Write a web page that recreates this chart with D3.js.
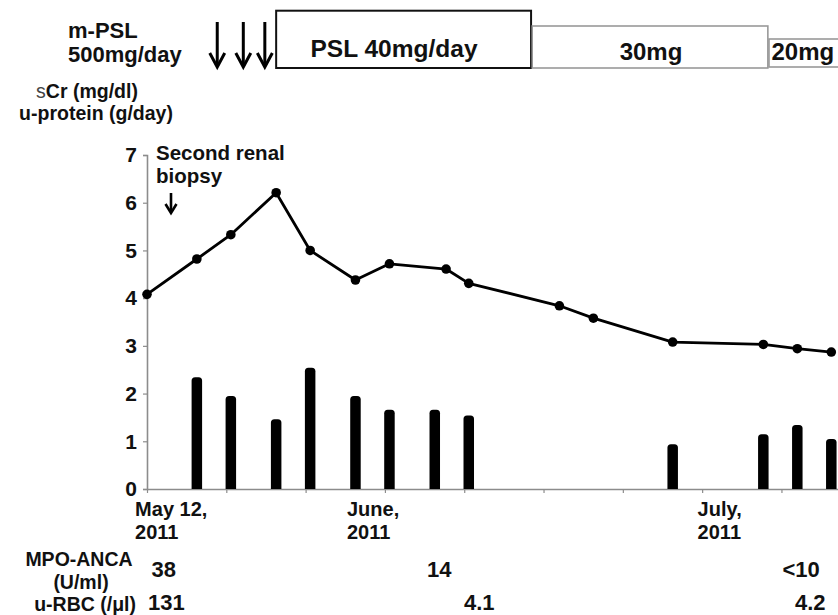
<!DOCTYPE html>
<html><head><meta charset="utf-8">
<script src="https://cdn.jsdelivr.net/npm/d3@7"></script>
<style>
body{margin:0;background:#fff}
svg{display:block;font-family:"Liberation Sans",Arial,Helvetica,sans-serif;font-weight:bold}
</style>
</head><body>
<svg id="chart" width="838" height="615"></svg>
<script>
// ---- data (x values: days after May 12, 2011) ----
const lineDays = [0, 4.4, 7.4, 11.4, 14.4, 18.4, 21.4, 26.4, 28.4, 36.4, 39.4, 46.4, 54.4, 57.4, 60.4];
const sCr      = [4.08, 4.82, 5.33, 6.21, 5.00, 4.38, 4.72, 4.61, 4.31, 3.84, 3.58, 3.08, 3.03, 2.94, 2.87];
const barDays  = [4.4, 7.4, 11.4, 14.4, 18.4, 21.4, 25.4, 28.4, 46.4, 54.4, 57.4, 60.4];
const uProtein = [2.34, 1.95, 1.46, 2.54, 1.95, 1.66, 1.66, 1.54, 0.94, 1.15, 1.34, 1.05];
const yTicks = [0, 1, 2, 3, 4, 5, 6, 7];
const xTickDays = [0, 7, 14, 21, 28, 35, 42, 49, 56];
const xLabelLines = [["May 12,", "2011"], ["June,", "2011"], ["July,", "2011"]];
const xLabelDays = [-1.05, 17.65, 48.6];
const mpslDays = [6.2, 8.5, 10.4];
const pslLabels = ["PSL 40mg/day", "30mg", "20mg"];
const pslStart = [11.4, 34.0, 54.9];
const pslEnd   = [33.9, 54.8, 63];
const mpoValues = ["38", "14", "<10"];
const rbcValues = ["131", "4.1", "4.2"];

// ---- layout ----
const svg = d3.select("#chart");
const x = d3.scaleLinear().domain([0, 61]).range([147, 838.1]);
const y = d3.scaleLinear().domain([0, 7]).range([489, 155]);
const axisColor = "#8c8c8c";

// axes
const yAxis = svg.append("g").attr("transform", `translate(${x(0)},0)`)
  .call(d3.axisLeft(y).tickValues(yTicks).tickSize(4).tickPadding(6).tickFormat(d3.format("d")));
yAxis.select(".domain").attr("stroke", axisColor).attr("stroke-width", 1.6);
yAxis.selectAll(".tick line").attr("stroke", axisColor).attr("stroke-width", 1.2);
yAxis.selectAll(".tick text").attr("fill", "#111").attr("font-size", 21)
  .attr("font-family", "Liberation Sans, Arial, sans-serif").attr("font-weight", "bold");

const xAxis = svg.append("g").attr("transform", `translate(0,${y(0)})`)
  .call(d3.axisBottom(x).tickValues(xTickDays).tickSize(4).tickSizeOuter(0).tickFormat(""));
xAxis.select(".domain").attr("stroke", axisColor).attr("stroke-width", 1.6);
xAxis.selectAll(".tick line").attr("stroke", axisColor).attr("stroke-width", 1.2);

// x labels
xLabelLines.forEach((lines, i) => {
  lines.forEach((l, j) => svg.append("text").attr("x", x(xLabelDays[i])).attr("y", 516 + j * 22.5)
    .attr("font-size", 20).attr("fill", "#111").text(l));
});

// bars (rounded top)
const bw = 10.5, r = 3.5;
svg.append("g").selectAll("path").data(barDays).join("path")
  .attr("fill", "#000")
  .attr("d", (d, i) => {
    const x0 = x(d) - bw / 2, x1 = x(d) + bw / 2, tp = y(uProtein[i]), b = y(0);
    return `M${x0},${b}L${x0},${tp + r}Q${x0},${tp} ${x0 + r},${tp}L${x1 - r},${tp}Q${x1},${tp} ${x1},${tp + r}L${x1},${b}Z`;
  });

// line + markers
const pts = lineDays.map((d, i) => [d, sCr[i]]);
svg.append("path").datum(pts)
  .attr("fill", "none").attr("stroke", "#000").attr("stroke-width", 2.8).attr("stroke-linejoin", "round")
  .attr("d", d3.line().x(d => x(d[0])).y(d => y(d[1])));
svg.append("g").selectAll("circle").data(pts).join("circle")
  .attr("cx", d => x(d[0])).attr("cy", d => y(d[1])).attr("r", 4.8).attr("fill", "#000");

// arrows helper
function downArrow(cx, y1, y2, hw, hh, sw) {
  const g = svg.append("g").attr("stroke", "#000").attr("stroke-width", sw).attr("fill", "none");
  g.append("line").attr("x1", cx).attr("x2", cx).attr("y1", y1).attr("y2", y2 - 1);
  g.append("polyline").attr("points", `${cx - hw},${y2 - hh} ${cx},${y2} ${cx + hw},${y2 - hh}`)
    .attr("stroke-linejoin", "miter");
}

// biopsy annotation
svg.append("text").attr("x", 156).attr("y", 160).attr("font-size", 20.5).attr("fill", "#111").text("Second renal");
svg.append("text").attr("x", 156).attr("y", 183).attr("font-size", 20.5).attr("fill", "#111").text("biopsy");
downArrow(171, 193, 213, 5.5, 9, 2.6);

// treatment row
const topG = svg.append("g");
topG.append("text").attr("x", 68).attr("y", 37.5).attr("font-size", 22).attr("fill", "#111").text("m-PSL");
topG.append("text").attr("x", 68).attr("y", 62).attr("font-size", 22).attr("fill", "#111").text("500mg/day");
mpslDays.forEach(d => downArrow(x(d), 22, 67, 7.5, 14, 3));

const boxTop = [10.7, 26, 39], boxBottom = [68, 68, 67];
const boxStroke = ["#111", "#999", "#999"], boxSW = [2, 1.6, 1.6];
pslLabels.forEach((lab, i) => {
  topG.append("rect").attr("x", x(pslStart[i])).attr("y", boxTop[i])
    .attr("width", x(pslEnd[i]) - x(pslStart[i])).attr("height", boxBottom[i] - boxTop[i])
    .attr("fill", "#fff").attr("stroke", boxStroke[i]).attr("stroke-width", boxSW[i]);
});
topG.append("text").attr("x", 394).attr("y", 57).attr("text-anchor", "middle").attr("font-size", 24.5).attr("fill", "#111").text(pslLabels[0]);
topG.append("text").attr("x", 651).attr("y", 60).attr("text-anchor", "middle").attr("font-size", 24).attr("fill", "#111").text(pslLabels[1]);
topG.append("text").attr("x", 771.5).attr("y", 60).attr("font-size", 24).attr("fill", "#111").text(pslLabels[2]);

// y-axis title
const l1 = svg.append("text").attr("x", 87).attr("y", 98).attr("font-size", 19.5).attr("fill", "#111").attr("text-anchor", "middle");
l1.append("tspan").attr("font-weight", "normal").attr("fill", "#444").text("s");
l1.append("tspan").text("Cr (mg/dl)");
svg.append("text").attr("x", 96).attr("y", 120).attr("font-size", 19.5).attr("fill", "#111").attr("text-anchor", "middle").text("u-protein (g/day)");

// bottom table
const tb = svg.append("g").attr("fill", "#111");
tb.append("text").attr("x", 79).attr("y", 566).attr("text-anchor", "middle").attr("font-size", 19.5).text("MPO-ANCA");
tb.append("text").attr("x", 81).attr("y", 588.5).attr("text-anchor", "middle").attr("font-size", 19.5).text("(U/ml)");
tb.append("text").attr("x", 136).attr("y", 610.5).attr("text-anchor", "end").attr("font-size", 19.5).text("u-RBC (/\u03bcl)");
const mpoX = [151.5, 427, 782.5], rbcX = [148, 464, 795];
mpoValues.forEach((v, i) => tb.append("text").attr("x", mpoX[i]).attr("y", 576.5).attr("font-size", 22).text(v));
rbcValues.forEach((v, i) => tb.append("text").attr("x", rbcX[i]).attr("y", 610).attr("font-size", 22).text(v));
</script>
</body></html>
